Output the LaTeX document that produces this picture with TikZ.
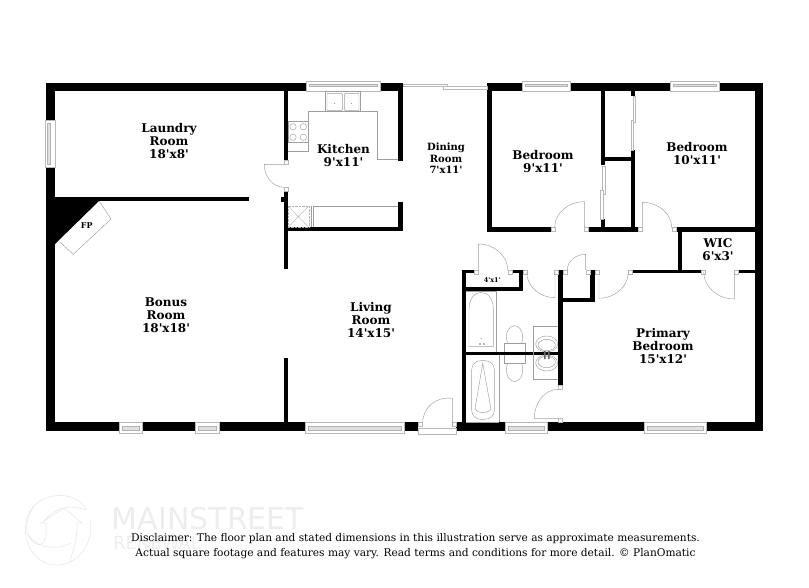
\documentclass[tikz,border=0pt]{standalone}
\usepackage{fontspec}
\newfontfamily\planfont{DejaVu Serif}
\setsansfont{DejaVu Sans}
\usetikzlibrary{calc}
\tikzset{
	wall/.style={fill=black},
	thin line/.style={draw=black!38,line width=0.45pt},
	jamb/.style={draw=black!28,fill=white,line width=0.4pt},
	rail/.style={draw=black!30,fill=black!12,line width=0.4pt},
	room/.style={font=\planfont\bfseries\fontsize{12}{13}\selectfont,align=center,inner sep=0pt},
	small room/.style={font=\planfont\bfseries\fontsize{10}{11.4}\selectfont,align=center,inner sep=0pt},
	note/.style={font=\planfont\fontsize{10.6}{15}\selectfont,align=center,inner sep=0pt},
	logo/.style={draw=black!9,line width=0.6pt},
}
\begin{document}
\begin{tikzpicture}[x=1pt,y=-1pt]
\useasboundingbox (0,0) rectangle (809,588);

% logo behind the text
\draw[logo] (44,562) .. controls (24,552) and (18,520) .. (36,504) .. controls (52,490) and (80,494) .. (86,510);
\draw[logo] (86,510) .. controls (72,505) and (58,505) .. (44,521);
\draw[logo] (36,504) .. controls (28,512) and (26,524) .. (27,533) .. controls (32,545) and (44,551) .. (46,535) -- (46,523) -- (41,523) -- (64,508) -- (82,523) -- (77,523);
\draw[logo] (77,523) .. controls (78,540) and (72,552) .. (70,562) .. controls (84,556) and (94,536) .. (90,520);
\draw[logo] (27,533) .. controls (38,550) and (58,550) .. (71,543);
\draw[logo] (44,562) .. controls (52,566) and (62,566) .. (70,562);
\node[font=\sffamily\fontsize{30}{30}\selectfont,text=black!7,inner sep=0pt] (brand) at (208,519) {MAINSTREET};
\node[font=\sffamily\fontsize{18}{18}\selectfont,text=black!7,inner sep=0pt] (brandsub) at (157,543) {RENEWAL};

% outer and inner walls: x1/y1/x2/y2
\foreach \xa/\ya/\xb/\yb in {
	46/82.7/306/91.2, 380/82.7/402.7/91.2, 487.3/82.7/521.7/91.2, 569.7/82.7/670/91.2, 719/82.7/762.7/91.2,
	46/82.7/54.7/120, 46/167.7/54.7/430.7, 755/82.7/762.7/430.7,
	46/422/119.3/430.7, 142/422/195/430.7, 218.7/422/305.3/430.7, 403.7/422/418.3/430.7,
	456/422/505/430.7, 546.7/422/644/430.7, 706/422/762.7/430.7,
	54.7/196.7/249/201.3,
	284/91/288.3/160, 284/191.7/288.3/269.3, 281/196.7/284/201.7, 284/358/288.3/422,
	284/227.3/402.7/231.5, 398.3/91/402.7/160.7, 398.3/201.7/402.7/231.5,
	487.3/91/491.7/231.7, 487.3/227.3/550.7/231.7, 588.3/227.3/638.3/231.7, 675.7/227.3/755/231.7,
	600.7/91/605/165, 600.7/157.3/635/161, 630.7/150/635/231.7, 630.7/91/635/96, 600.7/219/605/231.7,
	678/231/682/272, 632.3/270/700.7/273.3, 738.3/270/755/273.3,
	558.3/270/562.7/386.7, 560.7/298.3/594/302, 590/270/595/302,
	461.7/270/466/422, 461.7/270/474/273.3, 511.7/270/522.7/273.3, 518.7/270/522.7/291, 461.7/286.7/522.7/291,
	461.7/351.7/562.7/355.3}
{
	\fill[wall] (\xa,\ya) rectangle (\xb,\yb);
}

% fireplace
\fill[wall] (54.7,200) -- (100,200) -- (55,244) -- cycle;
\draw[thin line] (99.3,201.3) -- (111,219) -- (73.3,254.3) -- (59.3,241.7);

% windows along the long walls: x1/x2/y1/y2/rail1/rail2
\foreach \xa/\xb/\ya/\yb/\ra/\rb in {
	306/380/81.7/91/84/86.7, 521.7/569.7/81.7/91/84/86.7, 670/719/81.7/91/84/86.7,
	119.3/142/422/432.7/426.5/430, 195/218.7/422/432.7/426.5/430,
	305.3/403.7/422/432.7/426.5/430, 505/546.7/422/432.7/426.5/430, 644/706/422/432.7/426.5/430}
{
	\draw[jamb] (\xa,\ya) rectangle (\xb,\yb);
	\draw[rail] (\xa+3,\ra) rectangle (\xb-3,\rb);
}
% window in the left wall
\draw[jamb] (44.7,120) rectangle (54.7,167.7);
\draw[rail] (47,123) rectangle (50.5,164.7);

% sliding door
\draw[jamb] (402.7,84.3) rectangle (447,86.7);
\draw[jamb] (442.7,86.3) rectangle (487.3,89);

% closet sliders
\draw[jamb] (632.7,96) rectangle (635.2,122);
\draw[jamb] (630.7,120.7) rectangle (633.3,150);
\draw[jamb] (602,166) rectangle (604.7,194);
\draw[jamb] (600.3,190) rectangle (603,219);

% door jambs
\foreach \xa/\ya in {
	283.8/160, 283.8/187.3, 550.7/227.5, 584.3/227.5, 638.3/227.5, 671.7/227.5, 628.3/270, 595/270, 700.7/270, 734.3/270,
	474/270, 507.7/270, 522.7/270, 554.3/270, 562.7/270, 585.7/270, 558.3/385, 558.3/418, 418.3/422, 452.3/422}
{
	\draw[jamb] (\xa,\ya) rectangle ++(4,4);
}
\draw[jamb] (418.3,428.3) rectangle (456,434);

% door leaves and swings: hinge/leaf end/swing end
\foreach \hx/\hy/\lx/\ly/\sx/\sy in {
	284/164.3/264.3/164.3/284/187.3,
	584.3/227.5/584.3/201.7/554.7/227.5,
	642.3/227.5/642.3/202.3/671.7/227.5,
	734.3/272/734.3/299/703.7/272,
	599/272/599/298.3/628.3/272,
	585.7/270/585.7/254.3/567.3/270,
	555/272/555/297.7/526.7/272,
	478.3/270/478.3/244/507.7/270,
	558.3/418.3/534.3/418.3/558.3/389.3,
	452.3/426.7/452.3/398.3/422.7/423}
{
	\draw[thin line] (\hx,\hy) -- (\lx,\ly) .. controls ($(\lx,\ly)+0.55*(\sx,\sy)-0.55*(\hx,\hy)$) and ($(\sx,\sy)+0.55*(\lx,\ly)-0.55*(\hx,\hy)$) .. (\sx,\sy);
}

% kitchen
\draw[thin line] (325.7,91.7) rectangle (360,111.7);
\draw[thin line,rounded corners=1pt] (327,93.3) rectangle (342.3,110.7);
\draw[thin line,rounded corners=1pt] (344.3,93.3) rectangle (359,110.7);
\fill[black!50] (334.6,103.5) circle[radius=0.6] (351.6,103.5) circle[radius=0.6];
\draw[thin line] (288,151) -- (308.7,151) -- (308.7,111.7) -- (377.3,111.7) -- (377.3,159.3) -- (398.3,159.3);
\draw[thin line] (288,121.7) rectangle (308.7,142.7);
\foreach \bx in {293,303.3}
	\foreach \by in {126.7,137.3}
		\draw[thin line] (\bx,\by) circle[radius=3.2];
\draw[thin line] (313.3,227.3) -- (313.3,206) -- (398.3,206);
\draw[black!30,line width=0.4pt,densely dotted] (288,206) rectangle (308.7,227.3);
\draw[black!30,line width=0.4pt] (288,206) -- (308.7,227.3) (308.7,206) -- (288,227.3);
\draw[thin line] (311,206) -- (311,227.3);

% baths
\draw[thin line] (466,291) -- (496,291) -- (496,351.7);
\draw[thin line] (469,346.7) -- (469,309) .. controls (469,287) and (493.3,287) .. (493.3,309) -- (493.3,346.7) -- cycle;
\draw[thin line] (499.3,355.3) -- (499.3,422);
\draw[thin line,rounded corners=9pt] (471.7,360.7) rectangle (494.3,419.3);
\draw[thin line] (482.7,363.5) -- (475,409) .. controls (478,414) and (488,414) .. (491,409) -- cycle;
\fill[black!60] (480,344) circle[radius=0.9] (484,344) circle[radius=0.9] (481,338.5) circle[radius=0.5];
\draw[thin line] (466,422) -- (499.3,422);

% toilets
\draw[thin line] (504.3,351.7) -- (504.3,343.3) -- (525,343.3) -- (525,351.7);
\draw[thin line] (507.5,343.3) .. controls (504,332) and (510,325.7) .. (514.6,325.7) .. controls (519,325.7) and (525,332) .. (521.7,343.3);
\draw[thin line] (504.3,355.3) -- (504.3,363.3) -- (525,363.3) -- (525,355.3);
\draw[thin line] (507.5,363.3) .. controls (504,375) and (510,381.7) .. (514.6,381.7) .. controls (519,381.7) and (525,375) .. (521.7,363.3);

% vanity
\draw[thin line] (558.3,326.7) -- (533.3,326.7) -- (533.3,379.3) -- (558.3,379.3);
\foreach \cy/\cz in {344/345,363/362}
{
	\draw[thin line] (546.7,\cy) ellipse[x radius=11,y radius=8];
	\draw[thin line] (546.7,\cz) ellipse[x radius=8.7,y radius=5.7];
}
\fill[black!60] (544,351) rectangle (545.5,359) (548,351) rectangle (549.5,359);

% labels
\node[room] (laundry) at (169,141) {Laundry\\Room\\18'x8'};
\node[room] (kitchen) at (343.5,155.5) {Kitchen\\9'x11'};
\node[small room] (dining) at (446,158.5) {Dining\\Room\\7'x11'};
\node[room] (bedleft) at (543,161.5) {Bedroom\\9'x11'};
\node[room] (bedright) at (697,153.5) {Bedroom\\10'x11'};
\node[room] (wic) at (718,250) {WIC\\6'x3'};
\node[room] (bonus) at (166,315) {Bonus\\Room\\18'x18'};
\node[room] (living) at (371,320) {Living\\Room\\14'x15'};
\node[room] (primary) at (663,346.5) {Primary\\Bedroom\\15'x12'};
\node[font=\planfont\bfseries\fontsize{6.5}{6.5}\selectfont,inner sep=0pt] (hallcloset) at (492.3,280) {4'x1'};
\node[font=\planfont\bfseries\fontsize{8}{8}\selectfont,inner sep=0pt] (fp) at (86.7,226) {FP};
\node[note] (disclaimer) at (415.5,546) {Disclaimer: The floor plan and stated dimensions in this illustration serve as approximate measurements.\\Actual square footage and features may vary. Read terms and conditions for more detail. © PlanOmatic};
\end{tikzpicture}
\end{document}
